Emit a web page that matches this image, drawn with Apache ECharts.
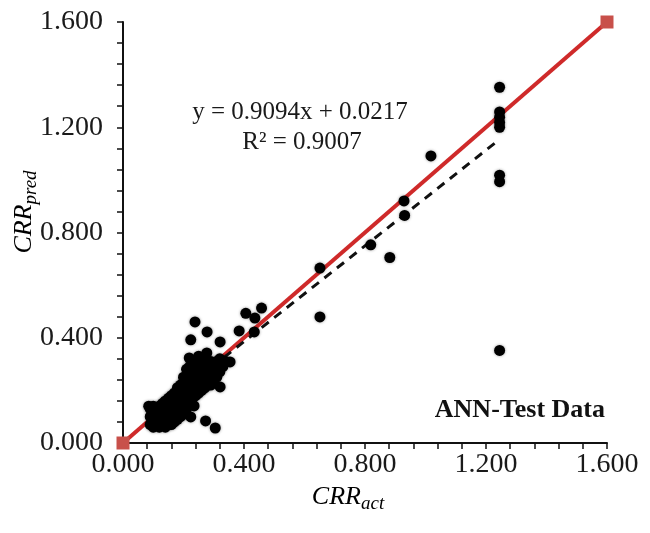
<!DOCTYPE html>
<html>
<head>
<meta charset="utf-8">
<script src="https://cdn.jsdelivr.net/npm/echarts@6/dist/echarts.min.js"></script>
<style>html,body{margin:0;padding:0;background:#fff}#c{width:650px;height:533px}</style>
</head>
<body>
<div id="c"></div>
<script>
// Axis ticks
const axisMin = 0, axisMax = 1.6, axisStep = 0.4;

// Dense cluster of test points [CRR_act, CRR_pred]
const clusterPoints = [
[0.09,0.07],[0.09,0.10],[0.09,0.13],[0.085,0.14],
[0.10,0.06],[0.10,0.09],[0.10,0.12],[0.10,0.14],
[0.11,0.07],[0.11,0.10],[0.11,0.13],
[0.12,0.06],[0.12,0.08],[0.12,0.11],[0.12,0.14],
[0.13,0.07],[0.13,0.09],[0.13,0.12],[0.13,0.15],
[0.14,0.06],[0.14,0.08],[0.14,0.10],[0.14,0.13],[0.14,0.16],
[0.15,0.07],[0.15,0.09],[0.15,0.12],[0.15,0.15],[0.15,0.17],
[0.16,0.07],[0.16,0.10],[0.16,0.13],[0.16,0.16],[0.16,0.18],
[0.17,0.08],[0.17,0.11],[0.17,0.14],[0.17,0.17],[0.17,0.19],
[0.18,0.09],[0.18,0.12],[0.18,0.15],[0.18,0.18],[0.18,0.21],
[0.19,0.10],[0.19,0.13],[0.19,0.16],[0.19,0.19],[0.19,0.22],
[0.20,0.11],[0.20,0.14],[0.20,0.17],[0.20,0.20],[0.20,0.23],[0.20,0.25],
[0.21,0.13],[0.21,0.16],[0.21,0.19],[0.21,0.22],[0.21,0.25],[0.21,0.28],
[0.22,0.15],[0.22,0.18],[0.22,0.21],[0.22,0.24],[0.22,0.27],[0.22,0.29],
[0.23,0.17],[0.23,0.20],[0.23,0.23],[0.23,0.26],[0.23,0.29],[0.23,0.31],
[0.24,0.18],[0.24,0.21],[0.24,0.24],[0.24,0.27],[0.24,0.30],
[0.25,0.19],[0.25,0.22],[0.25,0.25],[0.25,0.28],[0.25,0.31],[0.25,0.33],
[0.26,0.20],[0.26,0.23],[0.26,0.26],[0.26,0.29],[0.26,0.32],
[0.27,0.21],[0.27,0.24],[0.27,0.27],[0.27,0.30],[0.27,0.32],
[0.28,0.22],[0.28,0.25],[0.28,0.28],[0.28,0.31],
[0.29,0.22],[0.29,0.26],[0.29,0.29],[0.29,0.31],
[0.30,0.23],[0.30,0.27],[0.30,0.30],
[0.31,0.25],[0.31,0.28],[0.31,0.31],
[0.32,0.27],[0.32,0.30],[0.32,0.32],
[0.33,0.29],[0.33,0.31],[0.34,0.31]
];

// Scattered test points [CRR_act, CRR_pred]
const outlierPoints = [
[1.245,1.352],[1.245,1.258],[1.245,1.238],[1.245,1.218],[1.245,1.200],
[1.245,1.018],[1.245,0.993],[1.245,0.352],
[1.018,1.091],[0.929,0.920],[0.931,0.865],[0.882,0.705],[0.819,0.753],
[0.651,0.665],[0.651,0.479],
[0.406,0.493],[0.458,0.513],[0.436,0.475],[0.384,0.426],[0.434,0.422],
[0.238,0.460],[0.224,0.392],[0.278,0.422],[0.321,0.384],[0.277,0.342],
[0.354,0.308],[0.321,0.213],[0.235,0.141],[0.224,0.099],[0.273,0.084],
[0.305,0.057],[0.219,0.323]
];

// Line of equality (1:1)
const idealLine = [[0,0],[1.6,1.6]];
// Linear trend line: y = 0.9094x + 0.0217
const trendLine = [[0.085,0.099],[1.245,1.154]];

const eqText = 'y = 0.9094x + 0.0217';
const r2Text = 'R² = 0.9007';
const boxText = 'ANN-Test Data';

const chart = echarts.init(document.getElementById('c'));
const serif = '"Liberation Serif","DejaVu Serif",serif';
const axisCommon = {
  type: 'value', min: axisMin, max: axisMax, interval: axisStep,
  axisLine: {show: true, lineStyle: {color: '#111', width: 2}},
  axisTick: {show: true, length: 6, inside: false, lineStyle: {color: '#111', width: 1.5}},
  minorTick: {show: true, splitNumber: 5, length: 6, lineStyle: {color: '#111', width: 1.5}},
  splitLine: {show: false},
  axisLabel: {fontFamily: serif, fontSize: 28, color: '#1a1a1a', formatter: v => v.toFixed(3)}
};
chart.setOption({
  animation: false,
  backgroundColor: '#fff',
  grid: {left: 123, right: 43, top: 22, bottom: 90},
  xAxis: Object.assign({}, axisCommon, {axisLabel: Object.assign({}, axisCommon.axisLabel, {margin: 8})}),
  yAxis: Object.assign({}, axisCommon, {axisLabel: Object.assign({}, axisCommon.axisLabel, {margin: 20})}),
  series: [
    {type: 'line', data: idealLine, symbol: 'none', z: 2,
     lineStyle: {color: '#cf2a2a', width: 4}},
    {type: 'line', data: trendLine, symbol: 'none', z: 3,
     lineStyle: {color: '#111', width: 3, type: [9, 7]}},
    {type: 'scatter', data: clusterPoints.concat(outlierPoints), symbolSize: 11, z: 4,
     itemStyle: {color: '#000', opacity: 1, shadowBlur: 3, shadowColor: 'rgba(0,0,0,0.4)'}},
    {type: 'scatter', data: idealLine, symbol: 'rect', symbolSize: 13, z: 6,
     itemStyle: {color: '#c8504a', opacity: 1}}
  ],
  graphic: [
    {type: 'text', x: 300, y: 112, z: 10,
     style: {text: eqText, font: '25px ' + serif, fill: '#1a1a1a', align: 'center', verticalAlign: 'middle'}},
    {type: 'text', x: 302, y: 142, z: 10,
     style: {text: r2Text, font: '25px ' + serif, fill: '#1a1a1a', align: 'center', verticalAlign: 'middle'}},
    {type: 'text', x: 605, y: 410, z: 10,
     style: {text: boxText, font: 'bold 26px ' + serif, fill: '#111', align: 'right', verticalAlign: 'middle'}},
    {type: 'text', x: 348, y: 497, z: 10,
     style: {text: '{a|CRR}{b|act}', align: 'center', verticalAlign: 'middle',
       rich: {a: {fontFamily: serif, fontStyle: 'italic', fontSize: 26, lineHeight: 28, color: '#1a1a1a'},
              b: {fontFamily: serif, fontStyle: 'italic', fontSize: 19, lineHeight: 19, padding: [14, 0, 0, 0], color: '#1a1a1a'}}}},
    {type: 'text', x: 24, y: 212, rotation: Math.PI / 2, z: 10,
     style: {text: '{a|CRR}{b|pred}', align: 'center', verticalAlign: 'middle',
       rich: {a: {fontFamily: serif, fontStyle: 'italic', fontSize: 26, lineHeight: 28, color: '#1a1a1a'},
              b: {fontFamily: serif, fontStyle: 'italic', fontSize: 19, lineHeight: 19, padding: [14, 0, 0, 0], color: '#1a1a1a'}}}}
  ]
});
</script>
</body>
</html>
